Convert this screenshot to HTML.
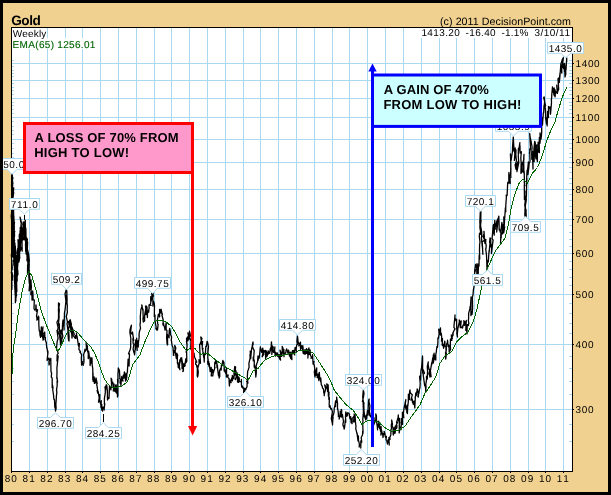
<!DOCTYPE html>
<html><head><meta charset="utf-8"><title>Gold</title>
<style>html,body{margin:0;padding:0;background:#F0D190;}svg{will-change:transform}svg text{white-space:pre;text-rendering:geometricPrecision}.s{stroke:none}</style></head>
<body>
<svg width="611" height="495" viewBox="0 0 611 495" style="display:block">
<rect width="611" height="495" fill="#F0D190"/>
<rect x="11" y="27" width="562" height="445" fill="#fff"/>
<path d="M29.5 28V471M47.5 28V471M65.5 28V471M82.5 28V471M100.5 28V471M118.5 28V471M136.5 28V471M154.5 28V471M171.5 28V471M189.5 28V471M207.5 28V471M225.5 28V471M243.5 28V471M260.5 28V471M278.5 28V471M296.5 28V471M314.5 28V471M332.5 28V471M349.5 28V471M367.5 28V471M385.5 28V471M403.5 28V471M421.5 28V471M439.5 28V471M456.5 28V471M474.5 28V471M492.5 28V471M510.5 28V471M528.5 28V471M545.5 28V471M563.5 28V471M12 409.5H572M12 344.5H572M12 294.5H572M12 253.5H572M12 219.5H572M12 189.5H572M12 162.5H572M12 139.5H572M12 117.5H572M12 98.5H572M12 80.5H572M12 63.5H572" stroke="#A9D9F1" stroke-width="1" fill="none" shape-rendering="crispEdges"/>
<path d="M569 441.5H572M12 441.5H14M569 424.5H572M12 424.5H14M569 394.5H572M12 394.5H14M569 381.5H572M12 381.5H14M569 368.5H572M12 368.5H14M569 356.5H572M12 356.5H14M569 333.5H572M12 333.5H14M569 323.5H572M12 323.5H14M569 313.5H572M12 313.5H14M569 303.5H572M12 303.5H14M569 285.5H572M12 285.5H14M569 277.5H572M12 277.5H14M569 269.5H572M12 269.5H14M569 261.5H572M12 261.5H14M569 246.5H572M12 246.5H14M569 239.5H572M12 239.5H14M569 232.5H572M12 232.5H14M569 225.5H572M12 225.5H14M569 212.5H572M12 212.5H14M569 206.5H572M12 206.5H14M569 200.5H572M12 200.5H14M569 194.5H572M12 194.5H14M569 183.5H572M12 183.5H14M569 178.5H572M12 178.5H14M569 172.5H572M12 172.5H14M569 167.5H572M12 167.5H14M569 157.5H572M12 157.5H14M569 153.5H572M12 153.5H14M569 148.5H572M12 148.5H14M569 143.5H572M12 143.5H14M569 134.5H572M12 134.5H14M569 130.5H572M12 130.5H14M569 126.5H572M12 126.5H14M569 121.5H572M12 121.5H14M569 113.5H572M12 113.5H14M569 109.5H572M12 109.5H14M569 105.5H572M12 105.5H14M569 102.5H572M12 102.5H14M569 94.5H572M12 94.5H14M569 90.5H572M12 90.5H14M569 87.5H572M12 87.5H14M569 83.5H572M12 83.5H14M569 76.5H572M12 76.5H14M569 73.5H572M12 73.5H14M569 70.5H572M12 70.5H14M569 66.5H572M12 66.5H14M569 60.5H572M12 60.5H14" stroke="#A9D9F1" stroke-width="1" fill="none" shape-rendering="crispEdges"/>
<rect x="12" y="28" width="35" height="10" fill="#fff"/><rect x="12" y="38" width="84" height="11" fill="#fff"/><rect x="420" y="28" width="152" height="10" fill="#fff"/>
<text x="12.8" y="37.0" class="s" font-family="Liberation Sans, Arial, sans-serif" font-size="10.0" textLength="33.5" fill="#000">Weekly</text>
<text x="12.6" y="48.0" class="s" font-family="Liberation Sans, Arial, sans-serif" font-size="10.0" textLength="82.8" fill="#006400" style="stroke:#006400;stroke-width:.12px">EMA(65) 1256.01</text>
<path d="M12.0 290.0 L11.9 289.5 L11.9 282.4 L11.6 279.9 L12.5 280.0 L12.5 276.1 L12.2 272.7 L11.3 273.0 L12.3 268.2 L11.3 254.3 L11.7 257.5 L12.2 256.5 L12.3 250.6 L12.2 252.6 L11.8 256.0 L12.3 250.4 L11.8 238.0 L11.9 238.0 L12.4 236.7 L11.9 227.8 L11.9 235.4 L11.7 227.6 L12.3 216.2 L12.1 226.7 L11.2 215.8 L12.1 210.4 L12.4 211.0 L11.5 212.3 L12.4 209.9 L12.8 204.0 L12.2 192.9 L12.4 193.2 L12.0 187.0 L11.7 187.6 L12.8 177.2 L11.5 185.2 L12.8 183.9 L11.3 165.8 L12.2 175.0 L12.4 174.4 L11.7 185.8 L12.7 184.8 L12.4 189.1 L13.0 193.0 L12.5 195.7 L11.6 202.2 L12.8 201.6 L11.5 198.9 L12.7 196.2 L12.3 213.0 L11.8 218.8 L12.7 213.3 L12.6 220.2 L12.5 225.6 L12.2 221.0 L12.9 226.1 L12.1 233.6 L12.5 232.0 L13.2 226.7 L11.9 225.1 L12.5 221.1 L13.2 214.4 L13.2 210.1 L12.3 216.2 L13.2 214.2 L12.8 207.5 L12.8 206.5 L12.6 201.9 L13.0 197.4 L13.1 197.0 L13.7 192.7 L12.8 188.0 L12.6 189.3 L12.8 198.7 L12.7 199.2 L13.7 187.9 L12.4 204.7 L13.1 207.8 L12.7 212.9 L13.0 210.3 L14.0 217.6 L12.7 218.5 L12.9 221.8 L11.8 222.8 L13.4 222.6 L13.0 236.0 L13.4 241.7 L12.3 235.9 L12.9 243.7 L13.6 230.8 L13.6 239.9 L13.1 250.0 L13.4 239.6 L13.2 249.5 L13.1 241.5 L13.5 238.2 L13.2 241.8 L13.7 229.8 L14.5 222.5 L13.7 223.6 L13.3 225.2 L13.4 221.8 L12.6 208.2 L13.6 207.7 L12.9 202.1 L13.9 209.8 L13.4 203.0 L14.1 201.5 L13.4 203.7 L13.8 220.0 L13.1 223.0 L13.9 217.7 L12.6 228.5 L13.5 221.8 L13.7 229.8 L14.3 226.0 L14.1 241.3 L14.3 236.3 L13.3 245.2 L13.7 244.0 L14.3 245.2 L12.7 247.7 L12.9 256.7 L13.9 252.8 L13.8 262.9 L13.8 262.0 L13.9 265.4 L13.8 260.9 L14.5 260.6 L13.6 254.0 L13.1 241.4 L13.1 248.7 L13.4 240.4 L13.9 237.2 L13.7 235.4 L14.8 231.4 L14.3 233.0 L14.0 219.0 L14.1 222.0 L13.9 230.3 L13.4 225.2 L14.6 235.0 L14.2 238.1 L14.3 231.5 L13.5 237.2 L14.7 240.6 L13.9 242.7 L13.6 248.9 L13.8 254.3 L13.3 257.2 L14.1 249.2 L14.7 260.3 L13.4 260.5 L14.5 265.6 L14.8 274.5 L14.8 275.5 L15.1 280.2 L14.5 280.0 L14.7 266.8 L15.0 280.2 L14.5 268.5 L15.5 259.1 L14.9 276.4 L14.3 264.9 L15.6 257.8 L15.0 259.7 L14.4 251.8 L15.0 253.2 L14.9 245.1 L14.9 243.0 L14.5 244.4 L15.3 249.7 L14.6 248.3 L16.2 261.0 L15.3 246.0 L15.3 264.0 L15.8 266.9 L15.1 270.5 L14.2 276.1 L15.3 270.8 L15.8 286.1 L14.6 277.2 L15.3 284.4 L15.1 281.9 L16.2 294.8 L14.7 286.3 L15.3 296.0 L16.1 297.7 L16.2 293.8 L15.0 288.0 L14.4 280.0 L15.4 283.1 L15.1 276.9 L15.7 276.2 L15.8 272.3 L15.4 272.0 L15.6 261.1 L15.6 262.0 L15.3 265.0 L15.6 268.8 L15.7 271.9 L15.6 267.9 L15.9 282.1 L15.9 279.1 L16.0 278.3 L14.9 286.3 L15.4 292.6 L15.3 279.2 L15.4 302.7 L15.7 291.3 L15.9 301.0 L15.6 300.5 L16.2 295.9 L16.6 295.4 L16.0 291.9 L16.8 290.7 L16.5 277.7 L16.0 283.5 L16.0 282.2 L16.4 278.4 L16.1 283.4 L16.2 268.0 L16.8 270.0 L16.3 286.6 L16.2 281.2 L16.8 280.0 L15.9 283.9 L16.6 291.5 L16.8 289.1 L16.5 292.0 L16.9 291.5 L16.6 286.1 L16.5 286.1 L16.1 276.6 L16.6 269.4 L16.5 263.7 L16.4 273.1 L17.0 267.0 L16.6 257.3 L17.6 263.6 L16.8 258.0 L17.3 257.0 L16.8 255.7 L17.3 272.4 L16.2 270.9 L17.4 265.9 L16.3 272.5 L17.2 281.0 L17.0 271.1 L17.3 276.0 L17.6 275.1 L18.0 274.3 L16.8 263.0 L17.0 257.2 L17.4 259.3 L17.7 248.5 L17.0 253.0 L17.6 250.0 L17.6 251.6 L17.7 252.6 L18.1 261.2 L17.8 259.3 L17.8 252.5 L17.5 269.0 L18.0 272.0 L17.4 269.7 L18.2 258.9 L18.0 260.8 L18.4 262.1 L18.2 251.8 L18.2 252.3 L18.6 250.9 L18.0 239.6 L18.4 243.0 L18.3 242.6 L18.0 248.8 L18.4 253.0 L18.9 253.7 L19.8 257.3 L18.8 262.0 L19.3 259.3 L19.4 244.0 L18.6 253.5 L19.3 260.4 L19.2 252.0 L19.4 247.1 L19.4 238.5 L19.2 236.0 L19.5 234.0 L19.9 237.5 L19.6 255.9 L19.4 248.9 L19.6 252.0 L20.2 249.1 L19.3 247.3 L20.0 246.5 L19.5 248.5 L20.6 237.1 L20.0 231.9 L20.6 227.6 L20.0 228.0 L20.4 228.7 L19.8 237.5 L20.8 237.0 L20.0 243.9 L20.3 244.5 L20.4 246.0 L21.1 248.5 L20.3 251.1 L20.6 240.8 L20.3 233.8 L19.9 239.7 L21.3 222.1 L20.1 217.1 L20.8 222.0 L21.4 222.8 L20.9 226.5 L20.9 225.7 L21.1 227.0 L21.1 238.5 L21.2 240.0 L21.5 235.4 L21.0 233.8 L21.3 237.1 L21.6 226.0 L22.0 228.4 L21.5 228.6 L21.4 233.3 L22.0 240.5 L22.2 251.2 L22.0 244.0 L21.8 240.9 L23.4 228.5 L22.0 235.2 L22.4 233.2 L22.4 228.0 L22.4 232.8 L22.6 237.7 L21.8 232.7 L22.8 240.0 L22.9 232.0 L22.5 237.1 L22.7 234.1 L23.4 229.5 L23.4 224.5 L23.2 222.0 L22.7 224.9 L23.6 225.4 L23.5 234.6 L23.6 234.0 L23.4 234.1 L24.8 225.3 L24.2 224.3 L24.3 222.0 L25.1 227.0 L24.9 225.6 L24.6 232.5 L24.7 236.0 L24.0 239.5 L25.3 220.5 L25.3 224.9 L25.1 222.0 L25.4 226.9 L24.5 227.3 L25.9 228.6 L24.9 228.0 L24.8 239.3 L26.2 242.9 L25.5 244.0 L25.7 251.4 L25.5 233.7 L26.0 236.2 L25.9 230.0 L25.5 227.5 L26.1 237.5 L25.5 238.4 L25.9 244.8 L26.1 245.3 L26.1 254.0 L26.3 252.0 L27.0 246.7 L26.9 241.3 L26.6 245.1 L26.7 238.0 L27.4 239.3 L26.8 245.2 L26.2 247.5 L26.6 252.4 L26.5 244.1 L27.1 258.1 L27.1 260.0 L27.0 260.8 L27.2 250.1 L27.6 241.9 L27.5 246.0 L27.3 249.0 L28.0 251.5 L27.8 252.2 L27.9 266.7 L27.5 273.2 L27.6 264.9 L27.9 268.0 L28.1 269.5 L27.5 250.8 L28.5 261.4 L28.3 254.0 L28.7 269.9 L28.5 261.5 L28.9 265.2 L29.3 260.6 L28.5 253.0 L29.1 271.0 L28.8 276.0 L29.3 283.5 L29.0 268.8 L28.9 262.9 L29.2 264.0 L29.0 270.4 L29.4 270.9 L29.3 278.3 L29.7 276.5 L29.9 279.7 L29.1 290.8 L29.7 287.0 L30.2 280.6 L30.8 285.2 L30.0 289.6 L31.0 280.0 L31.3 287.7 L31.4 285.9 L30.8 294.7 L31.7 291.9 L32.0 297.0 L32.0 300.0 L32.6 297.3 L32.7 290.9 L33.0 295.0 L33.1 299.8 L34.3 300.0 L34.0 308.3 L34.2 309.0 L34.7 310.0 L35.8 308.9 L35.9 305.6 L35.8 306.0 L36.0 305.0 L36.3 311.3 L37.6 309.7 L36.5 316.1 L37.0 318.0 L36.9 320.1 L38.0 318.9 L38.3 316.2 L38.8 317.0 L38.8 322.0 L38.8 323.7 L39.2 330.8 L39.7 330.7 L40.0 335.0 L40.6 337.3 L40.7 332.0 L41.5 329.7 L41.3 327.0 L41.1 336.3 L43.0 326.8 L42.3 335.9 L43.1 339.2 L43.0 340.0 L43.2 335.5 L43.7 339.5 L44.0 335.0 L43.8 333.4 L44.7 332.1 L44.9 337.3 L45.5 337.8 L45.3 339.8 L46.0 342.0 L46.3 342.2 L46.7 348.0 L47.0 348.0 L47.9 353.9 L47.3 349.5 L48.0 352.0 L47.1 360.4 L48.2 358.4 L49.0 358.1 L49.0 365.0 L49.5 363.3 L48.8 362.5 L50.0 360.0 L50.8 358.4 L50.9 367.4 L51.0 371.4 L51.6 373.0 L51.3 377.0 L52.0 377.9 L52.2 378.8 L52.2 387.7 L52.5 385.0 L53.0 387.9 L52.7 389.5 L53.5 395.0 L53.9 399.2 L54.4 399.7 L54.5 400.0 L54.8 407.3 L55.0 405.8 L55.5 411.0 L56.1 408.0 L55.8 403.0 L56.0 403.1 L56.5 394.9 L56.5 395.0 L56.9 392.2 L56.5 390.4 L57.2 385.0 L57.1 380.9 L57.6 382.2 L56.9 376.6 L56.8 378.5 L57.0 372.3 L56.9 368.1 L58.2 355.9 L57.0 360.9 L57.2 354.6 L58.2 353.4 L57.2 350.0 L56.5 349.3 L56.6 347.1 L57.2 341.4 L58.1 338.3 L57.0 330.4 L58.2 334.0 L57.4 331.3 L58.1 327.7 L56.9 322.2 L58.0 320.0 L58.5 318.6 L58.6 306.6 L58.4 311.1 L59.5 303.8 L58.5 303.0 L58.5 306.3 L59.1 308.2 L59.3 310.5 L59.0 314.4 L59.1 317.1 L58.4 325.2 L59.3 323.9 L59.4 331.3 L59.0 331.5 L59.5 335.0 L60.1 339.8 L60.0 336.0 L60.5 345.0 L61.2 342.9 L60.7 338.2 L60.9 334.9 L60.4 331.0 L61.0 330.0 L61.0 331.3 L61.0 337.7 L61.2 340.8 L62.0 342.0 L61.7 339.8 L62.9 336.3 L62.1 332.7 L62.6 324.7 L62.4 326.7 L62.6 323.4 L63.0 320.0 L63.7 325.4 L64.1 328.3 L64.0 330.0 L64.0 326.6 L64.2 322.5 L64.4 315.3 L64.5 316.6 L64.4 313.3 L65.0 310.0 L65.4 306.2 L66.4 296.3 L65.6 295.1 L66.3 303.8 L65.0 293.7 L66.3 290.0 L66.7 292.5 L66.8 290.6 L67.1 301.0 L66.9 301.7 L67.3 305.4 L67.2 310.0 L67.4 312.0 L66.3 316.7 L67.5 322.2 L67.0 323.5 L67.5 327.0 L68.0 330.6 L68.6 338.9 L67.8 331.6 L68.5 340.0 L69.0 341.1 L69.1 336.2 L68.5 329.1 L69.3 325.5 L69.0 325.0 L68.5 321.5 L70.7 328.6 L69.6 320.6 L70.3 319.8 L70.5 321.0 L71.4 324.2 L70.6 331.3 L71.1 331.8 L71.7 333.8 L72.0 338.0 L72.5 333.5 L71.8 326.7 L73.0 330.0 L72.8 329.3 L73.7 332.8 L74.3 334.3 L74.0 333.4 L73.7 336.2 L75.0 338.0 L75.5 338.4 L75.5 335.5 L76.3 335.0 L76.5 335.6 L76.5 333.0 L76.9 338.3 L76.8 335.6 L77.0 336.2 L78.4 345.0 L78.0 342.0 L78.3 345.1 L79.1 347.4 L79.4 343.4 L78.9 349.6 L79.5 350.0 L80.5 351.9 L79.8 352.2 L80.3 352.5 L81.6 354.7 L81.3 358.0 L81.6 365.2 L82.5 361.7 L82.0 363.3 L83.4 365.3 L83.0 365.0 L83.9 362.7 L83.8 359.3 L84.1 360.7 L83.6 354.4 L84.5 352.0 L85.0 349.1 L85.1 351.3 L86.5 349.5 L86.1 342.2 L86.3 345.0 L87.5 346.6 L87.0 344.8 L87.3 346.2 L87.7 351.9 L88.0 352.0 L88.3 354.1 L88.2 358.6 L88.6 351.2 L89.2 355.4 L89.1 357.9 L90.0 357.1 L90.1 365.5 L90.5 363.0 L91.1 360.9 L91.2 359.3 L91.5 358.0 L91.7 363.1 L92.0 357.8 L92.2 365.1 L92.8 369.0 L92.8 379.7 L93.0 377.0 L92.9 375.2 L93.0 372.9 L93.2 381.6 L94.1 376.8 L94.7 383.0 L94.4 383.4 L95.0 379.5 L95.8 382.9 L96.0 378.0 L97.2 383.6 L96.7 384.1 L97.7 390.3 L97.1 390.4 L97.5 392.0 L97.9 393.4 L97.9 391.0 L98.2 391.7 L99.3 398.6 L98.5 402.2 L99.8 394.6 L99.7 401.0 L100.9 404.7 L101.3 400.7 L100.9 406.6 L101.1 407.5 L101.8 404.5 L101.7 410.0 L101.6 406.7 L102.6 411.0 L102.6 407.4 L103.2 407.0 L103.7 408.7 L103.9 407.2 L104.2 410.0 L104.1 409.3 L104.8 403.7 L104.4 404.3 L104.4 398.6 L105.3 392.9 L105.3 387.3 L105.0 387.0 L105.8 387.1 L105.0 388.0 L105.6 389.3 L106.1 385.0 L106.7 385.0 L107.0 387.1 L107.1 389.5 L107.5 394.0 L107.4 389.6 L107.5 400.0 L108.3 398.5 L107.3 397.0 L108.6 398.0 L108.3 397.7 L109.0 398.3 L109.3 392.1 L109.5 385.6 L110.0 387.0 L110.9 389.9 L110.8 388.0 L111.8 387.6 L111.1 378.2 L111.7 380.0 L111.7 379.2 L112.0 383.6 L112.8 382.3 L113.1 383.6 L113.4 387.0 L114.1 384.1 L113.3 390.9 L114.4 391.0 L113.9 388.1 L115.0 390.0 L115.4 385.7 L115.4 391.2 L116.5 393.1 L116.0 384.6 L116.7 388.0 L117.2 393.5 L117.3 390.5 L117.5 397.0 L117.9 395.9 L117.9 389.2 L117.9 389.5 L117.6 379.1 L118.1 382.2 L118.0 380.1 L117.9 374.2 L118.1 372.8 L118.3 368.0 L119.4 370.3 L119.9 378.1 L119.7 378.6 L120.5 379.5 L120.0 383.0 L120.3 379.5 L120.9 385.4 L121.2 382.3 L121.2 381.1 L121.0 382.8 L121.8 376.4 L122.0 376.6 L123.0 381.1 L122.4 380.1 L123.3 377.0 L124.0 375.5 L123.2 375.2 L123.9 378.2 L124.4 371.9 L125.0 373.3 L125.6 374.3 L125.2 375.3 L125.5 381.2 L126.5 379.4 L126.5 373.7 L126.7 378.0 L126.9 373.5 L127.5 372.0 L127.4 371.0 L127.8 365.3 L128.1 359.2 L129.1 366.0 L129.2 360.0 L129.5 354.0 L128.5 353.8 L130.0 350.0 L130.7 347.5 L130.6 347.4 L130.8 339.0 L130.9 339.0 L129.9 332.5 L130.0 330.0 L130.8 327.0 L131.4 325.1 L130.6 332.5 L132.0 334.0 L131.6 333.9 L132.5 332.0 L133.7 340.4 L132.9 338.7 L133.2 343.7 L133.9 344.2 L133.1 349.0 L133.7 351.7 L134.2 353.0 L134.6 354.8 L135.4 346.6 L135.3 350.0 L135.2 343.8 L135.8 340.0 L136.6 344.3 L136.7 338.2 L136.2 343.3 L137.2 350.4 L137.0 347.4 L138.0 340.7 L137.6 346.6 L138.3 347.0 L138.3 343.4 L139.0 338.5 L139.2 335.9 L139.0 335.9 L139.3 332.1 L140.5 328.2 L140.0 325.0 L140.2 323.7 L140.4 321.3 L140.3 316.7 L140.9 309.5 L142.2 306.0 L141.7 305.0 L142.8 310.2 L143.0 309.2 L143.2 319.1 L142.9 318.3 L143.3 322.0 L144.7 320.7 L143.7 316.8 L144.4 317.6 L144.6 319.6 L144.7 314.5 L145.8 308.8 L146.0 314.7 L145.8 308.0 L145.5 306.4 L146.0 305.8 L147.0 307.2 L147.4 317.5 L147.5 315.0 L147.1 313.1 L147.2 314.9 L148.1 311.0 L148.7 312.1 L148.8 309.6 L149.1 308.8 L149.1 307.5 L149.0 304.9 L151.1 305.4 L149.9 304.8 L150.8 303.0 L150.7 296.7 L151.1 301.4 L152.0 297.3 L151.7 292.9 L152.5 294.0 L153.4 296.5 L152.8 291.9 L152.9 306.1 L153.3 301.0 L154.2 303.0 L154.5 305.6 L154.5 305.3 L154.3 316.6 L155.0 315.0 L155.0 320.3 L154.9 320.3 L156.1 326.8 L155.9 328.6 L156.7 330.0 L157.3 328.0 L157.5 330.0 L158.1 324.6 L157.8 323.9 L157.3 320.7 L158.4 314.1 L159.2 315.0 L159.3 316.3 L159.6 317.0 L159.6 309.3 L161.1 313.2 L161.1 309.2 L161.4 311.4 L161.3 310.0 L161.9 313.1 L162.5 314.2 L161.9 315.0 L163.2 320.0 L163.0 325.0 L162.9 323.3 L163.5 323.2 L163.9 325.8 L164.1 325.7 L164.7 327.9 L165.0 330.0 L165.5 328.2 L165.8 325.0 L166.2 322.4 L166.1 329.5 L167.0 330.7 L166.6 337.5 L167.1 344.3 L167.5 345.0 L167.6 344.8 L167.5 334.5 L169.1 337.8 L169.1 334.1 L169.2 331.0 L169.7 328.5 L170.3 331.2 L170.6 333.6 L169.6 330.7 L170.8 335.0 L171.6 337.1 L171.2 340.7 L171.5 341.0 L172.1 345.4 L173.0 347.6 L173.5 354.9 L173.8 355.4 L173.3 355.0 L173.7 354.5 L173.9 351.3 L174.2 350.6 L175.3 352.9 L174.7 345.5 L175.2 348.6 L175.0 345.8 L175.8 348.0 L175.1 351.4 L176.4 358.6 L176.7 353.1 L177.7 355.6 L177.4 356.1 L177.4 363.0 L178.4 365.4 L178.1 362.6 L178.2 367.0 L178.3 367.7 L179.2 368.0 L180.0 369.8 L179.4 366.9 L179.8 360.0 L179.9 363.1 L180.8 358.0 L181.9 357.9 L181.1 360.1 L182.9 365.2 L181.8 359.2 L182.1 368.7 L183.5 366.3 L182.7 367.1 L183.3 370.0 L182.8 371.6 L183.4 371.1 L183.5 363.9 L184.7 364.4 L185.2 365.6 L184.6 366.4 L185.9 358.7 L185.8 363.0 L186.8 361.1 L186.6 351.5 L186.1 352.3 L187.1 346.1 L186.5 341.3 L187.0 344.4 L186.5 338.7 L187.5 337.0 L188.0 340.8 L188.4 335.2 L187.9 333.0 L188.5 335.4 L189.0 339.0 L189.5 331.1 L190.4 336.1 L190.0 333.0 L190.2 334.6 L189.6 337.2 L191.0 341.3 L190.8 347.0 L190.5 348.2 L191.5 350.1 L192.0 352.9 L191.7 352.5 L191.9 352.4 L192.8 351.9 L193.0 352.0 L193.8 353.0 L194.2 356.4 L194.1 353.5 L194.0 354.6 L194.6 356.9 L195.0 358.0 L196.7 362.1 L196.0 360.4 L195.6 364.3 L196.3 364.7 L197.3 368.4 L197.4 365.9 L197.2 375.4 L197.5 377.0 L197.9 376.0 L198.3 372.2 L197.6 367.2 L197.7 368.2 L199.2 363.3 L199.0 359.7 L200.5 363.3 L200.0 356.0 L200.1 356.3 L199.6 344.4 L200.2 344.1 L200.3 343.8 L202.0 338.4 L200.8 337.0 L201.2 340.3 L201.5 344.7 L202.6 341.4 L202.2 346.7 L202.5 350.0 L203.0 348.3 L202.4 348.5 L203.8 357.7 L203.9 353.2 L204.2 362.0 L204.4 357.0 L204.2 353.5 L205.5 354.5 L205.5 351.4 L205.8 347.0 L205.9 346.2 L206.5 346.5 L206.8 343.6 L207.1 341.3 L207.5 342.0 L208.5 346.7 L207.7 354.9 L208.1 347.8 L207.8 357.6 L208.3 362.2 L207.5 362.0 L208.2 359.6 L207.7 364.2 L208.7 361.5 L208.6 363.9 L209.1 366.7 L209.2 363.2 L210.2 371.6 L210.0 368.0 L210.3 371.3 L210.8 370.8 L211.2 367.4 L211.5 372.7 L211.2 375.8 L212.8 375.9 L213.1 373.5 L212.5 372.0 L212.6 369.5 L212.7 370.5 L213.4 371.1 L212.8 374.6 L215.0 367.4 L214.6 367.8 L214.7 365.1 L214.8 362.5 L215.3 363.8 L215.6 360.6 L215.8 362.0 L216.2 363.1 L216.8 361.1 L217.0 367.7 L217.4 365.0 L217.5 367.0 L217.6 368.6 L218.5 375.6 L218.4 371.9 L219.0 376.4 L219.2 378.0 L219.1 374.4 L219.8 376.6 L219.6 370.5 L220.7 368.3 L220.8 370.0 L221.2 370.0 L221.4 365.3 L221.7 366.1 L222.2 363.7 L222.9 360.5 L222.6 364.0 L223.4 361.4 L223.3 362.0 L223.9 362.1 L224.3 369.9 L224.1 368.0 L224.2 371.0 L225.0 370.0 L225.9 370.7 L225.1 372.3 L226.5 374.8 L226.6 367.6 L226.3 377.0 L226.3 376.8 L228.0 376.4 L227.5 375.0 L228.3 375.1 L227.6 376.7 L228.3 377.9 L229.1 378.6 L229.1 381.1 L229.4 386.0 L229.9 382.2 L230.0 383.0 L230.2 380.9 L231.2 382.5 L230.4 380.1 L231.1 380.0 L232.0 377.6 L232.0 380.7 L231.6 379.9 L232.4 380.7 L232.5 379.7 L232.3 375.5 L233.3 378.0 L234.0 378.8 L234.0 372.4 L234.8 366.4 L234.3 371.8 L235.0 368.0 L235.6 367.0 L234.8 375.4 L236.0 370.8 L236.3 377.4 L235.4 379.7 L237.2 372.9 L237.5 375.4 L237.5 382.0 L238.4 382.3 L239.2 378.8 L238.5 382.4 L238.6 376.9 L239.2 378.0 L239.3 378.9 L239.3 381.6 L240.4 381.6 L241.2 381.6 L241.4 382.1 L241.4 379.5 L241.5 385.4 L241.7 387.0 L241.8 385.6 L242.1 385.6 L241.6 386.2 L242.7 386.7 L242.7 388.0 L243.9 388.0 L243.6 392.6 L244.5 391.7 L244.9 388.6 L244.6 392.7 L245.0 390.0 L245.1 388.7 L245.8 389.0 L245.8 389.7 L246.2 388.0 L247.0 386.8 L247.2 380.9 L246.6 381.3 L247.5 382.0 L247.9 383.1 L247.3 376.8 L247.7 371.0 L248.3 370.0 L248.5 368.9 L249.1 367.2 L248.9 363.4 L250.1 358.2 L250.0 355.0 L250.6 352.1 L250.2 351.1 L250.7 358.6 L251.1 353.9 L251.7 348.0 L252.1 347.3 L252.7 342.9 L253.1 344.5 L253.0 342.0 L252.5 346.7 L253.5 349.5 L254.2 350.3 L253.8 356.5 L253.3 360.9 L253.2 357.2 L254.3 360.9 L254.2 367.0 L254.5 364.6 L254.9 367.9 L255.3 368.9 L255.7 374.3 L255.8 377.0 L256.2 373.8 L256.5 367.4 L255.7 368.1 L256.7 363.8 L257.5 362.0 L258.0 355.8 L257.8 358.8 L258.0 360.5 L258.8 356.6 L259.2 358.0 L259.1 358.2 L259.5 355.6 L260.4 346.9 L260.0 350.0 L260.8 348.0 L261.3 351.0 L261.8 352.5 L261.6 350.1 L262.4 350.4 L262.8 348.1 L263.0 352.8 L262.1 356.8 L263.3 355.0 L263.8 354.5 L263.5 352.5 L265.0 351.0 L263.1 350.3 L265.0 352.0 L264.8 352.0 L265.4 350.3 L265.6 356.0 L265.6 358.8 L266.3 350.9 L267.2 355.8 L266.7 356.6 L267.5 355.0 L267.0 351.9 L268.6 353.1 L267.9 354.5 L269.2 352.4 L268.2 350.9 L269.6 353.3 L270.5 349.9 L270.0 350.0 L270.1 349.6 L271.1 346.9 L271.5 341.8 L271.6 347.1 L271.7 350.5 L271.3 348.1 L272.2 349.7 L272.0 345.1 L271.8 354.4 L272.9 346.7 L273.3 347.0 L272.9 350.3 L273.7 352.4 L274.6 349.3 L274.9 347.0 L274.7 349.2 L274.6 351.5 L275.4 356.1 L275.8 353.0 L274.6 351.6 L276.0 352.7 L276.9 355.5 L277.0 353.5 L277.6 356.2 L276.8 355.0 L277.3 353.0 L278.3 356.8 L278.6 354.7 L278.8 355.1 L279.2 358.0 L279.7 359.1 L280.6 360.0 L279.7 354.6 L280.0 355.9 L281.6 356.3 L280.0 350.2 L280.7 354.3 L281.6 353.0 L282.7 349.2 L281.8 356.0 L282.5 350.0 L283.0 348.2 L282.2 346.4 L282.3 351.0 L283.7 353.8 L283.9 349.5 L284.0 356.8 L283.8 352.4 L284.9 353.8 L285.0 353.8 L285.9 352.3 L285.8 353.0 L286.0 350.5 L286.7 349.0 L286.6 348.9 L287.2 350.5 L288.2 353.9 L287.7 352.4 L288.3 353.3 L288.5 352.4 L288.6 350.1 L289.5 356.1 L289.7 354.3 L289.8 352.3 L290.0 354.0 L289.5 355.6 L290.7 352.2 L290.5 357.0 L290.5 358.1 L291.9 359.6 L291.6 353.0 L292.0 353.3 L292.5 350.7 L293.4 350.5 L293.0 354.0 L293.3 351.1 L294.0 351.2 L294.2 352.0 L294.0 350.8 L294.7 354.9 L294.6 352.0 L295.1 347.5 L295.6 348.4 L296.5 351.5 L296.1 349.5 L296.7 345.0 L297.4 344.2 L296.9 341.4 L297.5 336.0 L297.8 338.8 L298.1 341.4 L299.0 344.5 L298.8 345.9 L299.2 345.0 L300.2 342.8 L300.5 342.1 L300.4 347.7 L301.1 347.3 L300.5 344.7 L300.5 349.3 L301.3 345.7 L301.7 348.0 L302.2 346.4 L302.1 347.7 L303.3 353.3 L302.8 345.6 L303.3 350.5 L303.7 352.3 L303.7 353.7 L304.5 352.2 L304.2 350.8 L305.0 349.6 L305.0 353.0 L305.2 350.9 L305.0 354.4 L305.9 352.8 L306.6 348.6 L306.5 353.3 L307.2 349.5 L307.4 353.0 L308.0 355.3 L307.9 358.0 L308.0 350.9 L308.3 352.0 L308.5 350.0 L308.9 347.9 L309.2 354.6 L310.0 353.1 L310.5 352.7 L310.1 349.9 L310.1 353.4 L310.8 356.0 L311.8 357.8 L311.0 358.2 L312.0 356.6 L312.2 356.8 L312.5 358.0 L312.6 354.7 L313.1 364.2 L314.1 361.5 L313.5 363.0 L314.2 365.0 L314.8 368.9 L314.3 372.0 L314.7 375.4 L315.0 377.0 L315.2 371.3 L315.7 375.4 L315.5 371.3 L316.7 368.8 L316.7 368.0 L316.7 375.1 L317.7 374.3 L317.2 377.7 L317.3 373.8 L318.3 377.0 L318.9 380.6 L318.5 375.5 L319.3 372.3 L319.8 379.0 L319.7 379.0 L320.5 378.6 L320.7 381.8 L320.8 378.0 L320.9 380.4 L321.3 384.7 L321.6 385.2 L322.2 386.2 L322.5 388.0 L323.6 389.2 L323.8 393.0 L324.1 391.8 L324.3 395.6 L324.2 395.0 L324.2 394.3 L324.8 392.2 L325.7 389.0 L324.7 385.0 L325.6 386.4 L326.1 388.2 L327.2 386.2 L326.7 384.0 L327.2 384.1 L327.6 391.5 L328.2 384.9 L328.4 396.1 L328.3 394.0 L329.0 392.0 L328.8 399.3 L329.4 397.5 L329.2 404.0 L329.3 407.1 L330.2 406.0 L329.9 405.6 L330.8 409.0 L331.4 408.4 L332.4 411.8 L331.3 418.7 L332.4 423.7 L332.5 425.0 L332.7 421.3 L333.1 417.1 L332.4 417.9 L334.0 412.6 L334.2 409.0 L334.2 408.4 L334.8 406.3 L335.6 400.8 L335.6 401.2 L335.6 406.6 L335.6 401.2 L336.1 402.7 L336.7 399.0 L336.6 397.1 L337.5 403.1 L337.5 409.3 L337.6 408.0 L338.3 412.6 L338.4 416.7 L339.9 415.4 L339.2 419.0 L340.3 412.4 L340.4 415.9 L340.2 414.7 L340.2 411.2 L340.6 416.7 L341.6 411.3 L341.2 409.3 L341.7 410.0 L341.5 417.1 L342.6 415.1 L342.4 414.5 L343.5 421.5 L342.9 424.4 L343.1 425.9 L343.5 425.6 L344.2 429.0 L344.7 426.7 L345.3 420.0 L345.8 422.3 L345.5 416.6 L345.8 412.0 L345.8 411.9 L345.8 412.8 L346.8 416.3 L347.4 415.2 L347.2 412.8 L347.5 414.2 L347.1 415.9 L347.6 412.8 L348.6 413.1 L349.6 414.5 L349.2 415.0 L350.2 418.9 L349.6 417.8 L350.7 416.8 L350.5 417.1 L350.8 418.5 L351.1 422.8 L352.0 421.5 L351.7 422.0 L352.1 423.6 L352.2 418.0 L353.1 417.7 L353.4 417.0 L354.1 416.2 L353.9 422.1 L353.5 421.5 L354.2 417.0 L354.2 414.0 L355.2 422.0 L355.1 415.3 L355.5 422.6 L355.8 425.0 L356.0 426.6 L355.7 428.3 L357.6 436.2 L357.0 432.8 L357.5 437.0 L358.0 440.8 L358.4 436.0 L358.5 440.4 L359.4 444.1 L359.3 445.2 L359.2 447.0 L359.5 445.0 L360.0 445.0 L360.8 444.1 L360.8 448.0 L360.8 440.8 L361.6 442.7 L361.7 441.5 L361.2 437.5 L362.5 435.0 L362.7 431.1 L363.1 433.0 L362.7 422.8 L363.0 422.0 L362.8 419.0 L363.3 413.4 L363.5 409.7 L363.5 410.3 L363.4 411.6 L363.1 402.4 L363.4 401.8 L362.7 397.1 L362.9 394.8 L363.3 390.0 L364.0 393.3 L363.5 396.8 L362.4 401.4 L364.1 403.0 L363.8 403.8 L364.0 412.0 L364.2 412.0 L364.5 417.1 L363.7 414.0 L365.3 416.8 L364.8 416.7 L365.8 420.0 L366.7 415.7 L366.1 415.2 L366.6 418.7 L367.4 410.7 L367.5 415.0 L368.5 410.3 L367.9 412.9 L368.5 402.2 L368.6 400.3 L369.2 399.0 L368.9 401.1 L369.9 405.9 L369.1 415.2 L369.4 411.3 L370.0 414.0 L370.3 416.5 L370.5 416.2 L371.8 415.7 L370.8 416.9 L371.2 415.5 L372.0 417.9 L372.1 419.7 L372.5 418.0 L372.7 415.1 L373.5 418.1 L374.0 417.8 L374.0 420.8 L372.9 416.6 L373.9 424.6 L373.9 423.9 L375.0 422.0 L375.9 419.3 L375.8 414.0 L376.4 415.7 L376.5 420.6 L377.0 424.8 L377.1 424.2 L377.5 429.0 L377.6 429.8 L377.4 425.3 L378.3 426.8 L378.6 421.1 L378.9 427.1 L379.7 422.4 L379.6 428.5 L380.0 427.0 L380.5 431.1 L381.1 426.3 L381.2 429.1 L380.9 435.0 L381.3 429.8 L381.7 430.8 L382.6 435.0 L382.5 435.0 L383.4 435.9 L382.9 437.5 L383.2 433.4 L383.7 434.6 L384.6 432.8 L384.5 434.2 L384.1 431.3 L385.0 434.0 L385.2 436.3 L385.8 437.7 L386.0 436.6 L386.4 436.4 L386.0 439.4 L386.3 440.2 L386.9 441.3 L387.5 444.0 L387.8 442.1 L388.0 440.0 L388.6 442.3 L389.0 437.4 L389.2 445.0 L389.2 443.6 L388.8 440.1 L390.2 439.3 L389.8 437.6 L390.8 435.0 L391.0 429.5 L391.5 428.9 L391.3 424.8 L391.8 423.3 L391.7 420.0 L392.5 424.2 L392.1 425.4 L393.1 428.0 L393.1 433.4 L393.3 435.0 L393.5 427.9 L394.0 433.6 L394.3 430.0 L395.1 430.6 L394.6 428.1 L395.3 426.2 L395.1 433.2 L395.8 427.0 L396.7 428.3 L397.0 425.6 L396.0 425.6 L397.6 422.3 L396.5 422.7 L398.3 416.7 L398.0 418.5 L398.3 415.0 L398.6 420.3 L399.0 421.6 L399.4 418.3 L399.2 432.9 L400.0 427.0 L400.4 429.6 L401.1 429.7 L401.2 422.8 L401.3 418.5 L401.5 425.0 L400.9 422.3 L402.5 424.4 L402.5 420.0 L402.4 415.7 L402.4 412.1 L403.8 417.6 L403.4 413.2 L404.2 407.0 L404.7 405.3 L405.8 399.6 L405.1 406.4 L406.4 410.1 L405.8 405.0 L407.2 408.9 L406.7 412.0 L407.4 413.6 L407.6 408.9 L407.6 404.9 L407.4 409.1 L408.3 402.0 L408.4 394.1 L409.1 397.1 L409.4 399.6 L409.6 391.7 L410.0 390.0 L410.0 391.2 L410.4 393.0 L412.3 394.8 L410.9 400.1 L411.9 398.4 L412.2 399.7 L412.5 402.5 L412.5 400.0 L413.3 404.1 L413.0 401.2 L413.2 404.3 L414.2 401.2 L414.2 403.0 L414.8 407.9 L415.4 396.1 L415.1 398.7 L415.5 396.0 L415.8 393.0 L416.6 394.4 L415.9 395.9 L416.7 394.8 L416.8 391.4 L416.8 394.6 L417.2 388.9 L418.5 393.4 L418.3 397.0 L418.3 396.4 L417.9 396.5 L419.0 392.7 L419.4 389.8 L420.0 387.0 L420.2 383.5 L419.6 376.1 L420.6 380.2 L420.8 373.0 L420.9 371.0 L421.6 367.5 L422.3 358.9 L422.3 358.9 L422.5 356.0 L422.6 357.3 L422.6 360.3 L422.6 373.1 L423.3 370.0 L424.4 373.0 L424.3 373.4 L423.1 374.2 L424.7 385.8 L425.0 385.0 L425.4 385.9 L425.8 392.0 L426.0 386.0 L425.8 384.7 L426.5 379.9 L426.5 376.2 L427.3 379.0 L427.5 372.0 L427.7 374.5 L427.3 366.1 L428.3 362.0 L428.1 364.6 L429.0 369.5 L429.8 369.5 L429.1 373.5 L430.0 377.0 L430.5 372.8 L431.1 376.6 L430.4 370.8 L431.8 362.3 L431.7 365.0 L432.1 362.4 L431.7 364.5 L432.8 357.7 L433.2 358.7 L433.3 355.0 L433.9 357.2 L434.1 353.2 L434.1 357.2 L433.3 363.1 L434.7 355.3 L434.4 359.4 L435.5 357.8 L435.8 360.0 L435.8 354.7 L435.9 353.7 L436.2 352.8 L436.7 348.0 L437.0 346.3 L437.5 347.3 L437.9 342.6 L437.9 337.9 L438.3 338.0 L438.5 338.2 L439.1 333.8 L438.7 329.2 L439.8 334.3 L440.0 330.0 L440.5 327.8 L440.6 333.4 L440.6 335.1 L441.3 333.4 L441.7 337.0 L441.5 341.1 L442.5 338.7 L442.2 345.3 L443.2 344.2 L443.3 347.0 L444.3 345.4 L443.5 348.3 L444.2 345.5 L444.7 341.2 L445.0 343.0 L444.6 345.7 L445.9 346.8 L446.1 353.2 L445.2 356.5 L445.8 359.0 L446.4 353.2 L445.5 353.1 L446.3 350.0 L446.3 345.0 L447.5 342.0 L447.5 340.1 L448.1 346.5 L448.3 344.9 L449.0 345.4 L449.2 352.0 L449.8 350.9 L450.6 349.5 L450.3 345.5 L450.5 338.9 L450.8 340.0 L451.8 340.4 L451.3 335.0 L452.4 338.4 L451.5 337.8 L453.2 334.9 L452.8 332.9 L452.7 335.8 L453.3 332.0 L455.0 328.9 L453.9 327.3 L454.2 323.7 L455.0 315.7 L455.0 315.0 L454.9 317.4 L456.0 320.9 L456.6 319.2 L456.6 323.8 L456.7 328.0 L457.0 331.8 L456.8 333.4 L457.5 337.0 L457.3 334.3 L457.8 328.9 L458.6 325.1 L459.4 321.7 L459.2 320.0 L459.9 321.5 L459.3 320.9 L459.7 321.2 L460.3 327.7 L460.5 327.7 L461.2 320.9 L460.3 326.9 L460.7 327.7 L462.3 327.6 L462.1 326.6 L462.5 328.0 L462.9 326.5 L462.9 325.5 L463.9 324.1 L463.9 322.0 L463.8 320.7 L464.3 325.3 L464.8 321.5 L465.0 322.0 L465.6 322.7 L465.8 325.9 L466.3 320.3 L465.8 330.4 L466.7 330.0 L467.0 333.9 L467.2 324.6 L468.3 325.5 L468.8 323.3 L468.3 320.0 L468.6 319.3 L468.6 313.6 L469.1 311.6 L470.0 308.3 L470.0 307.0 L470.5 305.8 L471.1 296.8 L470.9 310.7 L470.9 315.5 L471.7 312.0 L472.1 314.3 L472.6 308.0 L472.4 297.0 L472.6 296.4 L473.0 295.0 L473.4 289.9 L474.9 281.9 L474.4 283.9 L474.2 283.0 L474.4 283.4 L474.7 270.3 L475.0 272.0 L475.5 269.7 L474.8 270.1 L475.6 264.5 L476.6 267.7 L476.7 265.0 L476.9 276.0 L477.5 265.1 L477.8 268.7 L477.0 263.6 L478.3 272.0 L477.9 277.8 L478.6 264.0 L478.6 266.1 L479.0 266.0 L479.2 255.0 L479.7 259.0 L479.5 250.2 L479.6 244.5 L480.0 242.0 L479.3 236.4 L479.6 233.1 L480.6 234.2 L480.7 233.8 L480.5 231.4 L479.9 227.6 L480.1 218.7 L480.8 227.6 L479.8 222.7 L480.3 212.0 L480.9 211.5 L480.8 220.2 L481.1 220.3 L480.5 225.3 L481.7 231.9 L481.8 236.6 L481.7 235.0 L481.5 238.1 L482.2 245.9 L482.4 247.0 L482.5 248.0 L482.9 254.3 L482.2 241.9 L484.6 240.0 L483.1 236.6 L484.2 233.0 L483.9 231.4 L484.9 243.4 L485.4 240.2 L485.9 239.5 L485.8 240.0 L485.6 242.9 L486.2 245.4 L486.0 248.4 L485.7 248.8 L486.5 255.1 L486.7 260.0 L487.0 269.2 L487.4 265.9 L487.5 269.0 L487.4 260.7 L488.3 262.0 L488.8 254.8 L489.1 250.6 L489.2 252.0 L489.5 248.2 L490.0 243.3 L489.6 242.6 L490.0 238.0 L490.4 246.9 L490.6 238.4 L490.9 244.3 L491.5 246.7 L491.7 245.0 L491.4 253.5 L493.1 240.1 L492.1 238.5 L493.2 225.5 L493.3 233.0 L493.6 224.5 L494.2 235.1 L494.8 220.3 L495.3 229.0 L495.0 223.0 L495.2 227.0 L496.3 225.1 L496.0 225.9 L496.9 220.7 L496.7 232.0 L497.6 224.7 L497.8 218.8 L497.3 220.4 L498.0 220.0 L498.8 216.2 L499.1 223.9 L499.2 230.0 L500.1 230.0 L500.1 232.0 L500.9 232.6 L500.5 244.4 L500.8 237.0 L501.2 238.0 L501.2 233.9 L500.8 231.5 L501.9 222.4 L502.5 227.0 L502.3 234.0 L503.5 224.3 L503.7 233.0 L504.7 226.9 L503.9 228.1 L503.8 216.9 L504.2 226.2 L504.7 218.0 L505.4 207.8 L505.8 211.7 L505.7 208.5 L505.8 205.0 L506.4 197.2 L506.2 195.2 L507.0 195.0 L507.2 194.5 L507.1 195.5 L507.7 182.7 L508.3 182.0 L508.9 183.1 L508.8 175.7 L508.9 172.5 L510.2 183.6 L510.0 178.0 L511.0 177.2 L510.5 175.3 L510.9 167.9 L510.8 175.5 L510.8 163.0 L510.4 153.8 L511.1 160.3 L512.3 152.5 L512.5 150.8 L512.5 148.0 L512.9 141.9 L513.0 140.6 L513.3 137.0 L514.0 150.1 L513.0 145.9 L514.0 151.0 L514.2 150.0 L515.0 154.4 L515.2 147.8 L514.4 160.4 L516.0 149.8 L515.8 155.0 L516.5 160.9 L515.1 165.0 L515.9 169.2 L516.2 163.7 L516.7 170.0 L516.4 166.4 L517.8 161.8 L516.9 171.7 L518.8 162.7 L518.3 157.0 L518.4 148.4 L518.3 153.0 L519.9 142.6 L519.7 144.0 L520.0 146.3 L520.1 153.2 L521.4 151.7 L520.8 158.0 L521.4 166.3 L521.1 164.3 L520.9 173.3 L521.7 172.0 L521.8 166.6 L522.4 163.2 L522.2 163.2 L523.0 162.0 L524.0 159.1 L523.7 158.0 L524.0 154.5 L523.0 172.0 L523.7 160.2 L523.9 172.7 L523.3 169.1 L524.2 171.9 L524.5 183.3 L524.2 182.0 L524.5 183.4 L524.3 185.8 L524.4 193.3 L524.4 199.5 L525.7 196.0 L524.8 205.4 L524.7 205.0 L525.1 206.9 L524.8 215.4 L525.4 216.2 L525.3 217.0 L525.2 216.4 L526.0 209.4 L526.2 216.4 L525.3 206.1 L526.3 200.0 L525.9 191.0 L526.4 196.4 L526.6 185.8 L526.0 185.5 L526.7 185.0 L526.9 178.3 L526.4 186.8 L526.8 175.3 L527.1 170.4 L527.5 170.0 L527.9 167.3 L528.4 161.9 L527.9 174.5 L528.8 167.8 L529.2 163.0 L530.0 161.8 L529.7 148.8 L530.0 152.0 L529.4 153.3 L530.5 148.5 L529.7 133.5 L530.5 140.0 L530.3 138.0 L531.2 142.0 L532.1 147.0 L531.7 153.0 L531.8 159.3 L532.5 154.0 L533.0 169.1 L533.0 163.0 L532.8 160.4 L533.1 151.4 L534.2 161.6 L534.2 157.0 L534.9 155.4 L533.9 149.9 L534.7 141.3 L535.3 143.0 L535.2 149.9 L535.9 158.8 L536.6 145.0 L536.7 157.0 L537.4 161.6 L537.4 149.6 L538.4 148.1 L537.9 144.5 L538.3 152.0 L538.1 142.1 L539.4 152.6 L539.2 145.0 L539.4 137.3 L539.9 143.4 L540.3 140.0 L540.0 132.8 L541.0 139.1 L541.4 136.0 L541.7 132.0 L541.6 117.4 L542.5 125.0 L542.9 117.4 L543.0 118.0 L543.3 113.3 L543.7 112.0 L544.0 105.5 L544.5 106.1 L544.2 105.8 L544.6 101.8 L544.2 97.0 L543.7 97.5 L545.6 105.8 L545.0 107.0 L545.6 111.3 L545.4 108.4 L545.7 118.8 L546.5 123.8 L546.7 118.0 L547.2 125.9 L547.5 111.5 L548.4 117.7 L548.5 116.6 L548.3 115.0 L548.5 114.2 L548.5 106.4 L548.9 107.8 L549.1 108.1 L550.0 107.0 L550.5 114.1 L551.5 102.8 L551.4 100.0 L551.5 98.8 L551.7 97.0 L551.8 95.6 L551.7 95.5 L552.5 86.9 L553.0 90.0 L553.1 92.0 L553.3 91.1 L554.2 95.5 L554.2 88.0 L554.0 88.5 L555.1 96.8 L555.3 94.4 L554.8 89.4 L555.8 93.0 L556.9 91.5 L557.4 89.3 L556.7 85.2 L557.4 93.4 L557.5 92.0 L558.7 89.2 L558.0 78.6 L558.4 85.8 L558.7 78.0 L559.4 82.3 L559.7 75.3 L559.9 75.0 L560.0 73.0 L559.7 79.2 L560.8 65.0 L561.2 69.5 L561.8 73.1 L561.7 65.0 L560.7 64.5 L562.5 59.0 L563.4 57.7 L562.2 66.3 L563.3 68.0 L563.7 68.6 L563.4 63.9 L564.2 65.0 L564.5 71.4 L565.6 72.3 L564.5 63.3 L565.0 77.0 L565.8 74.1 L565.6 67.8 L566.0 70.0 L566.7 57.8 L566.7 62.0" stroke="#000" stroke-width="1.3" fill="none" stroke-linejoin="round"/>
<path d="M12.0 375.0 L12.8 355.0 L13.8 345.0 L15.5 335.0 L18.0 315.0 L22.0 292.0 L25.5 278.0 L28.8 271.0 L32.0 276.0 L36.0 290.0 L41.0 310.0 L46.0 324.0 L50.5 335.0 L53.0 341.0 L55.0 346.0 L57.2 351.0 L59.5 349.0 L61.3 345.0 L64.7 338.0 L67.0 333.0 L69.7 330.5 L73.0 330.0 L76.3 331.5 L79.7 335.0 L84.7 341.0 L91.3 347.5 L95.0 354.0 L98.8 363.3 L101.0 370.0 L104.2 378.3 L107.0 383.0 L110.0 386.0 L113.0 387.5 L116.7 387.5 L122.0 386.0 L127.5 381.7 L130.0 374.0 L132.5 365.0 L136.0 360.0 L140.0 355.0 L144.2 343.3 L147.0 337.0 L150.0 330.0 L154.2 321.7 L158.0 320.0 L162.5 320.0 L167.0 322.5 L171.7 326.7 L176.0 334.0 L180.0 341.7 L183.5 347.0 L186.7 350.8 L190.8 347.5 L195.0 348.5 L198.0 352.0 L200.8 354.2 L204.0 353.5 L207.5 353.3 L212.0 357.0 L216.7 360.8 L225.0 366.7 L235.0 372.5 L242.5 376.7 L248.0 380.0 L250.5 376.0 L253.3 370.8 L258.3 368.3 L261.5 364.0 L265.0 360.0 L271.7 356.7 L276.7 355.0 L280.8 355.8 L286.7 354.2 L295.0 353.0 L300.0 350.0 L304.0 350.0 L308.3 350.8 L313.3 353.3 L316.5 358.0 L320.0 363.3 L325.0 371.0 L329.2 378.0 L331.7 383.7 L334.2 390.0 L338.3 395.3 L345.8 404.5 L353.3 410.3 L358.3 417.8 L362.0 424.5 L365.8 421.2 L370.8 420.3 L378.3 422.0 L385.0 427.8 L391.7 431.2 L398.3 430.3 L405.0 426.2 L410.0 418.7 L415.0 411.7 L420.0 405.0 L425.0 393.3 L430.8 385.0 L435.8 376.7 L440.0 363.3 L445.0 355.8 L451.7 351.7 L456.7 341.7 L461.7 336.7 L465.0 334.5 L468.3 331.7 L473.3 321.7 L476.7 310.0 L480.0 295.0 L482.5 283.3 L486.7 270.0 L488.3 266.7 L491.7 259.0 L495.0 251.7 L500.0 245.0 L505.0 238.3 L508.3 225.0 L510.8 210.0 L514.2 196.0 L518.3 185.0 L520.0 181.7 L523.3 179.2 L527.5 183.3 L531.7 174.2 L537.5 167.5 L542.5 155.0 L546.7 140.8 L551.7 128.3 L555.0 121.7 L558.3 110.0 L562.5 96.7 L566.7 87.5" stroke="#006400" stroke-width="1" fill="none" stroke-linejoin="round" shape-rendering="crispEdges"/>
<rect x="11.5" y="27.5" width="561" height="444" fill="none" stroke="#000" stroke-width="1" shape-rendering="crispEdges"/>
<path d="M11.5 472V473M29.5 472V473M47.5 472V473M65.5 472V473M82.5 472V473M100.5 472V473M118.5 472V473M136.5 472V473M154.5 472V473M171.5 472V473M189.5 472V473M207.5 472V473M225.5 472V473M243.5 472V473M260.5 472V473M278.5 472V473M296.5 472V473M314.5 472V473M332.5 472V473M349.5 472V473M367.5 472V473M385.5 472V473M403.5 472V473M421.5 472V473M439.5 472V473M456.5 472V473M474.5 472V473M492.5 472V473M510.5 472V473M528.5 472V473M545.5 472V473M563.5 472V473M573 409.5H574M573 344.5H574M573 294.5H574M573 253.5H574M573 219.5H574M573 189.5H574M573 162.5H574M573 139.5H574M573 117.5H574M573 98.5H574M573 80.5H574M573 63.5H574" stroke="#000" stroke-width="1" fill="none" shape-rendering="crispEdges"/>
<path d="M-4.0 158.5H26.0V169.3H17L12 174.39999999999998L7 169.3H-4.0Z" fill="#fff" stroke="#A9D9F1" stroke-width="1"/><text x="-2.8" y="167.8" class="s" font-family="Liberation Sans, Arial, sans-serif" font-size="10.0" textLength="27" fill="#000">850.0</text>
<path d="M9.5 198.5H39.5V209.3H29.4L24.4 214.1L19.4 209.3H9.5Z" fill="#fff" stroke="#A9D9F1" stroke-width="1"/><text x="10.7" y="207.8" class="s" font-family="Liberation Sans, Arial, sans-serif" font-size="10.0" textLength="27" fill="#000">711.0</text>
<path d="M51.5 273.5H81.5V284.3H71.4L66.4 289.4L61.400000000000006 284.3H51.5Z" fill="#fff" stroke="#A9D9F1" stroke-width="1"/><text x="52.7" y="282.8" class="s" font-family="Liberation Sans, Arial, sans-serif" font-size="10.0" textLength="27" fill="#000">509.2</text>
<path d="M37.5 417.5H50.5L55.5 412.90000000000003L60.5 417.5H73.5V428.3H37.5Z" fill="#fff" stroke="#A9D9F1" stroke-width="1"/><text x="38.7" y="426.8" class="s" font-family="Liberation Sans, Arial, sans-serif" font-size="10.0" textLength="33" fill="#000">296.70</text>
<path d="M85.5 427.5H98.4L103.4 422.7L108.4 427.5H121.5V438.3H85.5Z" fill="#fff" stroke="#A9D9F1" stroke-width="1"/><text x="86.7" y="436.8" class="s" font-family="Liberation Sans, Arial, sans-serif" font-size="10.0" textLength="33" fill="#000">284.25</text>
<path d="M134.5 277.5H170.5V288.3H157.5L152.5 293.4L147.5 288.3H134.5Z" fill="#fff" stroke="#A9D9F1" stroke-width="1"/><text x="135.7" y="286.8" class="s" font-family="Liberation Sans, Arial, sans-serif" font-size="10.0" textLength="33" fill="#000">499.75</text>
<path d="M227.5 396.5H240.4L245.4 391.6L250.4 396.5H263.5V407.3H227.5Z" fill="#fff" stroke="#A9D9F1" stroke-width="1"/><text x="228.7" y="405.8" class="s" font-family="Liberation Sans, Arial, sans-serif" font-size="10.0" textLength="33" fill="#000">326.10</text>
<path d="M279.5 319.5H315.5V330.3H302.6L297.6 335.0L292.6 330.3H279.5Z" fill="#fff" stroke="#A9D9F1" stroke-width="1"/><text x="280.7" y="328.8" class="s" font-family="Liberation Sans, Arial, sans-serif" font-size="10.0" textLength="33" fill="#000">414.80</text>
<path d="M345.5 374.5H381.5V385.3H368.3L363.3 389.9L358.3 385.3H345.5Z" fill="#fff" stroke="#A9D9F1" stroke-width="1"/><text x="346.7" y="383.8" class="s" font-family="Liberation Sans, Arial, sans-serif" font-size="10.0" textLength="33" fill="#000">324.00</text>
<path d="M343.5 454.5H356.2L361.2 449.6L366.2 454.5H379.5V465.3H343.5Z" fill="#fff" stroke="#A9D9F1" stroke-width="1"/><text x="344.7" y="463.8" class="s" font-family="Liberation Sans, Arial, sans-serif" font-size="10.0" textLength="33" fill="#000">252.20</text>
<path d="M465.5 195.5H495.5V206.3H485.3L480.3 211.2L475.3 206.3H465.5Z" fill="#fff" stroke="#A9D9F1" stroke-width="1"/><text x="466.7" y="204.8" class="s" font-family="Liberation Sans, Arial, sans-serif" font-size="10.0" textLength="27" fill="#000">720.1</text>
<path d="M472.5 274.5H482.5L487.5 270.0L492.5 274.5H502.5V285.3H472.5Z" fill="#fff" stroke="#A9D9F1" stroke-width="1"/><text x="473.7" y="283.8" class="s" font-family="Liberation Sans, Arial, sans-serif" font-size="10.0" textLength="27" fill="#000">561.5</text>
<path d="M510.5 221.5H520.6L525.6 216.60000000000002L530.6 221.5H540.5V232.3H510.5Z" fill="#fff" stroke="#A9D9F1" stroke-width="1"/><text x="511.7" y="230.8" class="s" font-family="Liberation Sans, Arial, sans-serif" font-size="10.0" textLength="27" fill="#000">709.5</text>
<path d="M495.5 120.5H531.5V131.3H518.4L513.4 136.0L508.4 131.3H495.5Z" fill="#fff" stroke="#A9D9F1" stroke-width="1"/><text x="496.7" y="129.8" class="s" font-family="Liberation Sans, Arial, sans-serif" font-size="10.0" textLength="33" fill="#000">1033.9</text>
<path d="M547.5 42.5H583.5V53.3H570.8L565.8 57.7L560.8 53.3H547.5Z" fill="#fff" stroke="#A9D9F1" stroke-width="1"/><text x="548.7" y="51.8" class="s" font-family="Liberation Sans, Arial, sans-serif" font-size="10.0" textLength="33" fill="#000">1435.0</text>
<path d="M24.5 215V220M103.5 414V422M566.5 58V62.5" stroke="#000" stroke-width="1" shape-rendering="crispEdges"/>
<rect x="191" y="172" width="3" height="256" fill="#f00"/>
<path d="M188 426H197.2L192.6 435.4Z" fill="#f00"/>
<rect x="24.5" y="123.5" width="168" height="49" fill="#FF99CC" stroke="#f00" stroke-width="3"/>
<text x="34.6" y="141.7" font-family="Liberation Sans, Arial, sans-serif" font-weight="bold" font-size="13" textLength="144" fill="#000">A LOSS OF 70% FROM</text>
<text x="34.2" y="156.7" font-family="Liberation Sans, Arial, sans-serif" font-weight="bold" font-size="13" textLength="95" fill="#000">HIGH TO LOW!</text>
<rect x="371" y="70" width="3" height="377" fill="#00f"/>
<path d="M368.3 71.5H376.7L372.5 63.5Z" fill="#00f"/>
<rect x="372.5" y="75" width="168" height="51.4" fill="#CCFFFF" stroke="#00f" stroke-width="3"/>
<text x="383.8" y="93.9" font-family="Liberation Sans, Arial, sans-serif" font-weight="bold" font-size="13" textLength="105" fill="#000">A GAIN OF 470%</text>
<text x="383.4" y="108.6" font-family="Liberation Sans, Arial, sans-serif" font-weight="bold" font-size="13" textLength="138" fill="#000">FROM LOW TO HIGH!</text>
<text x="11.2" y="24.7" font-family="Liberation Sans, Arial, sans-serif" font-weight="bold" font-size="13.6" textLength="29.6" fill="#000">Gold</text>
<text x="440" y="24.7" class="s" font-family="Liberation Sans, Arial, sans-serif" font-size="10.67" textLength="131" fill="#000">(c) 2011 DecisionPoint.com</text>
<text x="421.4" y="36.4" class="s" font-family="Liberation Sans, Arial, sans-serif" font-size="10.0" textLength="38.4" fill="#000">1413.20</text>
<text x="465.6" y="36.4" class="s" font-family="Liberation Sans, Arial, sans-serif" font-size="10.0" textLength="30" fill="#000">-16.40</text>
<text x="501.5" y="36.4" class="s" font-family="Liberation Sans, Arial, sans-serif" font-size="10.0" textLength="27" fill="#000">-1.1%</text>
<text x="534.4" y="36.4" class="s" font-family="Liberation Sans, Arial, sans-serif" font-size="10.0" textLength="35.6" fill="#000">3/10/11</text>
<text x="4.7" y="482" class="s" font-family="Liberation Sans, Arial, sans-serif" font-size="10.0" textLength="12.2" fill="#000">80</text>
<text x="22.5" y="482" class="s" font-family="Liberation Sans, Arial, sans-serif" font-size="10.0" textLength="12.2" fill="#000">81</text>
<text x="40.3" y="482" class="s" font-family="Liberation Sans, Arial, sans-serif" font-size="10.0" textLength="12.2" fill="#000">82</text>
<text x="58.1" y="482" class="s" font-family="Liberation Sans, Arial, sans-serif" font-size="10.0" textLength="12.2" fill="#000">83</text>
<text x="75.9" y="482" class="s" font-family="Liberation Sans, Arial, sans-serif" font-size="10.0" textLength="12.2" fill="#000">84</text>
<text x="93.7" y="482" class="s" font-family="Liberation Sans, Arial, sans-serif" font-size="10.0" textLength="12.2" fill="#000">85</text>
<text x="111.5" y="482" class="s" font-family="Liberation Sans, Arial, sans-serif" font-size="10.0" textLength="12.2" fill="#000">86</text>
<text x="129.3" y="482" class="s" font-family="Liberation Sans, Arial, sans-serif" font-size="10.0" textLength="12.2" fill="#000">87</text>
<text x="147.1" y="482" class="s" font-family="Liberation Sans, Arial, sans-serif" font-size="10.0" textLength="12.2" fill="#000">88</text>
<text x="164.9" y="482" class="s" font-family="Liberation Sans, Arial, sans-serif" font-size="10.0" textLength="12.2" fill="#000">89</text>
<text x="182.8" y="482" class="s" font-family="Liberation Sans, Arial, sans-serif" font-size="10.0" textLength="12.2" fill="#000">90</text>
<text x="200.6" y="482" class="s" font-family="Liberation Sans, Arial, sans-serif" font-size="10.0" textLength="12.2" fill="#000">91</text>
<text x="218.4" y="482" class="s" font-family="Liberation Sans, Arial, sans-serif" font-size="10.0" textLength="12.2" fill="#000">92</text>
<text x="236.2" y="482" class="s" font-family="Liberation Sans, Arial, sans-serif" font-size="10.0" textLength="12.2" fill="#000">93</text>
<text x="254.0" y="482" class="s" font-family="Liberation Sans, Arial, sans-serif" font-size="10.0" textLength="12.2" fill="#000">94</text>
<text x="271.8" y="482" class="s" font-family="Liberation Sans, Arial, sans-serif" font-size="10.0" textLength="12.2" fill="#000">95</text>
<text x="289.6" y="482" class="s" font-family="Liberation Sans, Arial, sans-serif" font-size="10.0" textLength="12.2" fill="#000">96</text>
<text x="307.4" y="482" class="s" font-family="Liberation Sans, Arial, sans-serif" font-size="10.0" textLength="12.2" fill="#000">97</text>
<text x="325.2" y="482" class="s" font-family="Liberation Sans, Arial, sans-serif" font-size="10.0" textLength="12.2" fill="#000">98</text>
<text x="343.0" y="482" class="s" font-family="Liberation Sans, Arial, sans-serif" font-size="10.0" textLength="12.2" fill="#000">99</text>
<text x="360.8" y="482" class="s" font-family="Liberation Sans, Arial, sans-serif" font-size="10.0" textLength="12.2" fill="#000">00</text>
<text x="378.6" y="482" class="s" font-family="Liberation Sans, Arial, sans-serif" font-size="10.0" textLength="12.2" fill="#000">01</text>
<text x="396.4" y="482" class="s" font-family="Liberation Sans, Arial, sans-serif" font-size="10.0" textLength="12.2" fill="#000">02</text>
<text x="414.2" y="482" class="s" font-family="Liberation Sans, Arial, sans-serif" font-size="10.0" textLength="12.2" fill="#000">03</text>
<text x="432.0" y="482" class="s" font-family="Liberation Sans, Arial, sans-serif" font-size="10.0" textLength="12.2" fill="#000">04</text>
<text x="449.8" y="482" class="s" font-family="Liberation Sans, Arial, sans-serif" font-size="10.0" textLength="12.2" fill="#000">05</text>
<text x="467.6" y="482" class="s" font-family="Liberation Sans, Arial, sans-serif" font-size="10.0" textLength="12.2" fill="#000">06</text>
<text x="485.4" y="482" class="s" font-family="Liberation Sans, Arial, sans-serif" font-size="10.0" textLength="12.2" fill="#000">07</text>
<text x="503.2" y="482" class="s" font-family="Liberation Sans, Arial, sans-serif" font-size="10.0" textLength="12.2" fill="#000">08</text>
<text x="521.0" y="482" class="s" font-family="Liberation Sans, Arial, sans-serif" font-size="10.0" textLength="12.2" fill="#000">09</text>
<text x="538.9" y="482" class="s" font-family="Liberation Sans, Arial, sans-serif" font-size="10.0" textLength="12.2" fill="#000">10</text>
<text x="556.7" y="482" class="s" font-family="Liberation Sans, Arial, sans-serif" font-size="10.0" textLength="12.2" fill="#000">11</text>
<text x="575.6" y="412.5" class="s" font-family="Liberation Sans, Arial, sans-serif" font-size="10.0" textLength="18.0" fill="#000">300</text>
<text x="575.6" y="348.0" class="s" font-family="Liberation Sans, Arial, sans-serif" font-size="10.0" textLength="18.0" fill="#000">400</text>
<text x="575.6" y="297.9" class="s" font-family="Liberation Sans, Arial, sans-serif" font-size="10.0" textLength="18.0" fill="#000">500</text>
<text x="575.6" y="257.1" class="s" font-family="Liberation Sans, Arial, sans-serif" font-size="10.0" textLength="18.0" fill="#000">600</text>
<text x="575.6" y="222.5" class="s" font-family="Liberation Sans, Arial, sans-serif" font-size="10.0" textLength="18.0" fill="#000">700</text>
<text x="575.6" y="192.6" class="s" font-family="Liberation Sans, Arial, sans-serif" font-size="10.0" textLength="18.0" fill="#000">800</text>
<text x="575.6" y="166.2" class="s" font-family="Liberation Sans, Arial, sans-serif" font-size="10.0" textLength="18.0" fill="#000">900</text>
<text x="575.6" y="142.5" class="s" font-family="Liberation Sans, Arial, sans-serif" font-size="10.0" textLength="24.0" fill="#000">1000</text>
<text x="575.6" y="121.2" class="s" font-family="Liberation Sans, Arial, sans-serif" font-size="10.0" textLength="24.0" fill="#000">1100</text>
<text x="575.6" y="101.7" class="s" font-family="Liberation Sans, Arial, sans-serif" font-size="10.0" textLength="24.0" fill="#000">1200</text>
<text x="575.6" y="83.7" class="s" font-family="Liberation Sans, Arial, sans-serif" font-size="10.0" textLength="24.0" fill="#000">1300</text>
<text x="575.6" y="67.1" class="s" font-family="Liberation Sans, Arial, sans-serif" font-size="10.0" textLength="24.0" fill="#000">1400</text>
<path d="M0 0H611V495H0Z M3 3V492H608V3Z" fill="#000" fill-rule="evenodd"/>
</svg>
</body></html>
